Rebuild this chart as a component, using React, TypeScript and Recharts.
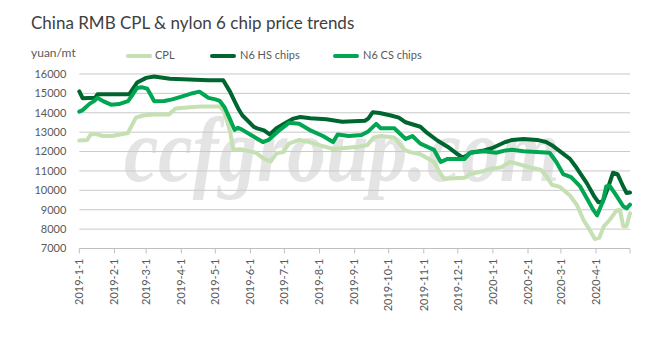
import React from 'react';
import { LineChart, Line, XAxis, YAxis, CartesianGrid, Legend } from 'recharts';

const TITLE = 'China RMB CPL & nylon 6 chip price trends';
const UNIT = 'yuan/mt';
const WATERMARK = 'ccfgroup.com';

const SERIES_NAMES = ['CPL', 'N6 HS chips', 'N6 CS chips'];
const SERIES_COLORS = ['#C5E0B3', '#00662F', '#00A651'];

// day index from 2019-1-1
const tickDays = [0, 31, 59, 90, 120, 151, 181, 212, 243, 273, 304, 334, 365, 396, 425, 456, 486];
const tickLabels = [
  '2019-1-1', '2019-2-1', '2019-3-1', '2019-4-1', '2019-5-1', '2019-6-1', '2019-7-1', '2019-8-1',
  '2019-9-1', '2019-10-1', '2019-11-1', '2019-12-1', '2020-1-1', '2020-2-1', '2020-3-1', '2020-4-1', '',
];
const yTicks = [7000, 8000, 9000, 10000, 11000, 12000, 13000, 14000, 15000, 16000];

const cplDays = [0, 7, 10, 14, 21, 29, 43, 45, 50, 56, 65, 79, 85, 95, 109, 124, 127, 130, 133, 136, 142, 147, 156, 163, 169, 174, 180, 185, 194, 203, 215, 224, 232, 246, 254, 260, 266, 278, 287, 292, 301, 313, 319, 322, 340, 345, 357, 364, 372, 380, 386, 398, 407, 412, 417, 424, 433, 439, 445, 450, 455, 459, 463, 468, 474, 477, 480, 483, 486];
const cplValues = [12570, 12600, 12880, 12910, 12800, 12800, 12960, 13200, 13750, 13860, 13910, 13910, 14220, 14270, 14330, 14330, 14140, 13670, 13040, 12090, 12120, 12060, 11940, 11620, 11500, 11910, 11970, 12410, 12600, 12490, 12280, 12130, 12170, 12250, 12330, 12730, 12800, 12730, 12090, 11970, 11860, 11460, 10840, 10600, 10650, 10840, 11000, 11120, 11180, 11460, 11380, 11180, 11070, 10760, 10290, 10180, 9730, 9260, 8470, 8000, 7490, 7560, 8160, 8470, 8950, 9010, 8160, 8160, 8820];

const hsDays = [0, 3, 14, 16, 44, 51, 59, 66, 80, 114, 127, 133, 137, 141, 144, 150, 154, 157, 163, 168, 174, 183, 189, 195, 204, 218, 232, 252, 255, 259, 265, 275, 282, 288, 301, 307, 316, 325, 334, 338, 342, 345, 357, 364, 376, 382, 392, 404, 412, 417, 424, 433, 439, 448, 454, 458, 462, 467, 471, 475, 480, 483, 486];
const hsValues = [15100, 14750, 14780, 14950, 14950, 15560, 15800, 15870, 15750, 15680, 15680, 15090, 14600, 14140, 13860, 13510, 13270, 13200, 13090, 12880, 13200, 13510, 13700, 13780, 13720, 13670, 13540, 13590, 13700, 14030, 13990, 13860, 13750, 13510, 13280, 12960, 12570, 12250, 11860, 11700, 11780, 11940, 12060, 12170, 12490, 12600, 12650, 12600, 12490, 12330, 12020, 11620, 11150, 10360, 9730, 9390, 9420, 10200, 10910, 10840, 10200, 9860, 9890];

const csDays = [0, 3, 9, 13, 16, 21, 28, 35, 43, 47, 51, 55, 60, 63, 66, 75, 82, 91, 100, 106, 110, 114, 120, 124, 128, 133, 137, 140, 144, 153, 162, 167, 177, 185, 194, 203, 215, 224, 228, 238, 249, 255, 262, 266, 278, 288, 294, 301, 313, 319, 325, 340, 345, 357, 368, 376, 382, 392, 415, 421, 427, 434, 442, 448, 454, 457, 462, 465, 468, 474, 480, 483, 486];
const csValues = [14060, 14140, 14460, 14600, 14770, 14600, 14420, 14450, 14600, 14930, 15280, 15320, 15240, 14930, 14600, 14610, 14690, 14850, 15010, 15090, 14930, 14770, 14690, 14610, 14300, 13670, 13120, 13230, 13120, 12800, 12490, 12600, 13120, 13480, 13430, 13120, 12800, 12490, 12880, 12800, 12850, 13040, 13430, 13200, 13200, 12650, 12800, 12410, 12090, 11460, 11620, 11620, 11940, 12020, 11940, 12060, 12090, 12020, 11940, 11460, 10840, 10680, 10200, 9580, 8950, 8710, 9420, 10200, 10240, 9730, 9180, 9070, 9260];

const toData = (days: number[], values: number[]) => days.map((d, i) => ({ d, v: values[i] }));
const seriesData = [toData(cplDays, cplValues), toData(hsDays, hsValues), toData(csDays, csValues)];

const FONT = 'Lato, "Open Sans", sans-serif';
const TEXT_COLOR = '#595959';

const XTick = (props: any) => {
  const { x, y, payload } = props;
  const idx = tickDays.indexOf(payload.value);
  const label = idx >= 0 ? tickLabels[idx] : '';
  return (
    <text
      x={x}
      y={y}
      transform={`rotate(-90, ${x}, ${y})`}
      textAnchor="end"
      dy="0.35em"
      fontSize={11}
      fontFamily={FONT}
      fill={TEXT_COLOR}
    >
      {label}
    </text>
  );
};

const legendPos = [
  { sx: 126, tx: 155 },
  { sx: 210, tx: 240 },
  { sx: 333, tx: 363 },
];

const renderLegend = () => (
  <div style={{ position: 'relative', width: 657, height: 16 }}>
    {SERIES_NAMES.map((name, i) => (
      <React.Fragment key={name}>
        <div
          style={{
            position: 'absolute',
            left: legendPos[i].sx,
            top: 6.5,
            width: 26,
            height: 4,
            borderRadius: 2,
            background: SERIES_COLORS[i],
          }}
        />
        <div
          style={{
            position: 'absolute',
            left: legendPos[i].tx,
            top: 0,
            fontSize: 11,
            lineHeight: '16px',
            fontFamily: FONT,
            color: TEXT_COLOR,
            whiteSpace: 'nowrap',
          }}
        >
          {name}
        </div>
      </React.Fragment>
    ))}
  </div>
);

export default function App() {
  return (
    <div style={{ position: 'absolute', left: 0, top: 0, width: 657, height: 353, background: '#fff', overflow: 'hidden' }}>
      <svg width={657} height={353} style={{ position: 'absolute', left: 0, top: 0 }}>
        <text
          x={124}
          y={181}
          fontFamily='"Liberation Serif", "DejaVu Serif", serif'
          fontStyle="italic"
          fontWeight="bold"
          fontSize={90}
          fill="#E4E4E4"
          textLength={436}
          lengthAdjust="spacingAndGlyphs"
        >
          {WATERMARK}
        </text>
      </svg>
      <div
        style={{
          position: 'absolute',
          left: 31,
          top: 12,
          fontSize: 17,
          lineHeight: '22px',
          fontFamily: FONT,
          color: '#404040',
          whiteSpace: 'nowrap',
        }}
      >
        {TITLE}
      </div>
      <div
        style={{
          position: 'absolute',
          left: 31,
          top: 45,
          fontSize: 12,
          lineHeight: '16px',
          fontFamily: FONT,
          color: TEXT_COLOR,
        }}
      >
        {UNIT}
      </div>
      <div style={{ position: 'absolute', left: 0, top: 0 }}>
        <LineChart width={657} height={353} margin={{ top: 74, right: 27, bottom: 18.5, left: 0 }}>
          <CartesianGrid horizontal vertical={false} stroke="#C9C9C9" strokeWidth={1} />
          <XAxis
            dataKey="d"
            type="number"
            domain={[0, 486]}
            ticks={tickDays}
            interval={0}
            allowDuplicatedCategory={false}
            height={70}
            axisLine={{ stroke: '#BFBFBF' }}
            tickLine={{ stroke: '#BFBFBF' }}
            tickSize={5}
            tickMargin={5}
            tick={<XTick />}
          />
          <YAxis
            type="number"
            domain={[7000, 16000]}
            ticks={yTicks}
            interval={0}
            width={79.3}
            axisLine={false}
            tickLine={false}
            tickSize={0}
            tickMargin={13}
            tick={{ fontSize: 11, fontFamily: FONT, fill: TEXT_COLOR }}
          />
          <Legend
            content={renderLegend}
            wrapperStyle={{ position: 'absolute', top: 47, left: 0, width: 657, height: 16 }}
          />
          {SERIES_NAMES.map((name, i) => (
            <Line
              key={name}
              name={name}
              data={seriesData[i]}
              dataKey="v"
              type="linear"
              stroke={SERIES_COLORS[i]}
              strokeWidth={4}
              strokeLinejoin="round"
              strokeLinecap="round"
              dot={false}
              activeDot={false}
              isAnimationActive={false}
            />
          ))}
        </LineChart>
      </div>
    </div>
  );
}
